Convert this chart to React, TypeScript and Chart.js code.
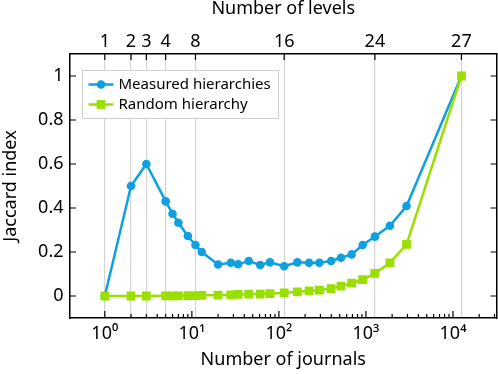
import React, { useEffect, useRef } from "react";
import { Chart, registerables } from "chart.js";

Chart.register(...registerables);

// ---- data ----
const journals = [1, 2, 3, 5, 6, 7, 9, 11, 13, 20, 28, 34, 45, 61, 79, 115, 163, 222, 292, 398, 517, 685, 917, 1268, 1884, 2930, 12500];
const measured = [0, 0.5, 0.6, 0.43, 0.374, 0.333, 0.273, 0.232, 0.2, 0.143, 0.151, 0.144, 0.159, 0.141, 0.153, 0.135, 0.153, 0.151, 0.151, 0.159, 0.174, 0.189, 0.232, 0.27, 0.319, 0.409, 1];
const random = [0, 0, 0, 0.001, 0.001, 0.001, 0.002, 0.002, 0.003, 0.004, 0.005, 0.007, 0.008, 0.009, 0.011, 0.014, 0.019, 0.023, 0.027, 0.034, 0.045, 0.058, 0.074, 0.103, 0.151, 0.235, 1];
const levelTicks = [1, 2, 3, 4, 8, 16, 24, 27];
const yTicks = [0, 0.2, 0.4, 0.6, 0.8, 1];
const decadeTicks = [1, 10, 100, 1000, 10000];
const seriesNames = ["Measured hierarchies", "Random hierarchy"];
const xTitle = "Number of journals";
const x2Title = "Number of levels";
const yTitle = "Jaccard index";

const BLUE = "#0fa0df";
const GREEN = "#99df00";
const FONT = "'Noto Sans', sans-serif";
const XMIN = Math.pow(10, -0.4);
const XMAX = Math.pow(10, 4.5);

const SUP: Record<string, string> = { "0": "\u2070", "1": "\u00b9", "2": "\u00b2", "3": "\u00b3", "4": "\u2074", "5": "\u2075" };

const noPad = (s: any) => {
  s.paddingLeft = 0;
  s.paddingRight = 0;
  s.paddingTop = 0;
  s.paddingBottom = 0;
};

const decor = {
  id: "decor",
  afterDatasetsDraw(chart: any) {
    const { ctx, chartArea: a, scales } = chart;
    const xs = scales.x;
    const ys = scales.y;
    ctx.save();
    // inward tick marks
    ctx.strokeStyle = "#000";
    ctx.lineWidth = 1.2;
    ctx.beginPath();
    for (let e = 0; e <= 4; e++) {
      for (let m = 1; m <= 9; m++) {
        const v = m * Math.pow(10, e);
        if (v > XMAX) continue;
        const x = xs.getPixelForValue(v);
        const len = m === 1 ? 7 : 4;
        ctx.moveTo(x, a.bottom);
        ctx.lineTo(x, a.bottom - len);
      }
    }
    levelTicks.forEach((l) => {
      const x = xs.getPixelForValue(journals[l - 1]);
      ctx.moveTo(x, a.top);
      ctx.lineTo(x, a.top + 6);
    });
    yTicks.forEach((v) => {
      const y = ys.getPixelForValue(v);
      ctx.moveTo(a.left, y);
      ctx.lineTo(a.left + 6, y);
      ctx.moveTo(a.right, y);
      ctx.lineTo(a.right - 6, y);
    });
    ctx.stroke();

    // legend box
    const bx = a.left + 12.5;
    const by = a.top + 16.5;
    const bw = 196;
    const bh = 48;
    ctx.fillStyle = "#fff";
    ctx.fillRect(bx, by, bw, bh);
    ctx.strokeStyle = "#d0d0d0";
    ctx.lineWidth = 1;
    ctx.strokeRect(bx, by, bw, bh);
    const colors = [BLUE, GREEN];
    seriesNames.forEach((name, i) => {
      const cy = by + 14 + 20 * i;
      const x0 = bx + 6;
      const x1 = bx + 31;
      const cx = (x0 + x1) / 2;
      ctx.strokeStyle = colors[i];
      ctx.lineWidth = 2.5;
      ctx.beginPath();
      ctx.moveTo(x0, cy);
      ctx.lineTo(x1, cy);
      ctx.stroke();
      ctx.fillStyle = colors[i];
      if (i === 0) {
        ctx.beginPath();
        ctx.arc(cx, cy, 4.3, 0, Math.PI * 2);
        ctx.fill();
      } else {
        ctx.fillRect(cx - 4.4, cy - 4.4, 8.8, 8.8);
      }
      ctx.fillStyle = "#000";
      ctx.font = "15px " + FONT;
      ctx.textBaseline = "middle";
      ctx.textAlign = "left";
      ctx.fillText(name, bx + 36, cy);
    });
    ctx.restore();
  },
};

export default function App() {
  const ref = useRef<HTMLCanvasElement>(null);
  useEffect(() => {
    Chart.defaults.font.family = FONT;
    Chart.defaults.color = "#000";
    const border = { display: true, color: "#000", width: 1.5 };
    const chart = new Chart(ref.current as HTMLCanvasElement, {
      type: "line",
      data: {
        datasets: [
          {
            label: seriesNames[0],
            data: journals.map((j, i) => ({ x: j, y: measured[i] })),
            borderColor: BLUE,
            backgroundColor: BLUE,
            pointBackgroundColor: BLUE,
            borderWidth: 2.5,
            pointRadius: 4.3,
            pointBorderWidth: 0,
            pointStyle: "circle",
            order: 1,
          },
          {
            label: seriesNames[1],
            data: journals.map((j, i) => ({ x: j, y: random[i] })),
            borderColor: GREEN,
            backgroundColor: GREEN,
            pointBackgroundColor: GREEN,
            borderWidth: 2.5,
            pointRadius: 6.2,
            pointBorderWidth: 0,
            pointStyle: "rect",
            order: 0,
          },
        ],
      },
      options: {
        responsive: false,
        animation: false,
        layout: { padding: 0, autoPadding: false },
        plugins: { legend: { display: false }, tooltip: { enabled: false } },
        scales: {
          x: {
            type: "logarithmic",
            position: "bottom",
            min: XMIN,
            max: XMAX,
            afterBuildTicks: (s: any) => {
              s.ticks = decadeTicks.map((v) => ({ value: v, major: true }));
            },
            afterFit: (s: any) => {
              s.height = 56;
              noPad(s);
            },
            grid: { display: false, drawTicks: false },
            border,
            ticks: {
              autoSkip: false,
              maxRotation: 0,
              padding: 5,
              font: { size: 18 },
              color: "#000",
              callback: (v: any) => "10" + SUP[String(Math.round(Math.log10(Number(v))))],
            },
            title: { display: true, text: xTitle, font: { size: 18 }, color: "#000", padding: { top: 0, bottom: 3 } },
          },
          x2: {
            type: "logarithmic",
            position: "top",
            min: XMIN,
            max: XMAX,
            afterBuildTicks: (s: any) => {
              s.ticks = levelTicks.map((l) => ({ value: journals[l - 1] }));
            },
            afterFit: (s: any) => {
              s.height = 54;
              noPad(s);
            },
            grid: { display: true, drawOnChartArea: true, drawTicks: false, color: "#d4d4d4", lineWidth: 1.2 },
            border,
            ticks: {
              autoSkip: false,
              maxRotation: 0,
              padding: 1,
              font: { size: 18 },
              color: "#000",
              callback: (_v: any, i: number) => String(levelTicks[i]),
            },
            title: { display: true, text: x2Title, font: { size: 18 }, color: "#000", padding: { top: -1.5, bottom: 0 } },
          },
          y: {
            type: "linear",
            position: "left",
            min: -0.1,
            max: 1.1,
            afterBuildTicks: (s: any) => {
              s.ticks = yTicks.map((v) => ({ value: v }));
            },
            afterFit: (s: any) => {
              s.width = 70;
              noPad(s);
            },
            grid: { display: false, drawTicks: false },
            border,
            ticks: {
              padding: 6.5,
              font: { size: 18 },
              color: "#000",
              callback: (v: any) => String(v),
            },
            title: { display: true, text: yTitle, font: { size: 18 }, color: "#000", padding: { top: 0, bottom: 0 } },
          },
          y2: {
            type: "linear",
            position: "right",
            min: -0.1,
            max: 1.1,
            afterFit: (s: any) => {
              s.width = 1.5;
              noPad(s);
            },
            grid: { display: false, drawTicks: false },
            border,
            ticks: { display: false },
          },
        },
      },
      plugins: [decor],
    } as any);
    return () => chart.destroy();
  }, []);
  return (
    <div style={{ position: "fixed", left: 0, top: 0, width: 498, height: 374, background: "#fff" }}>
      <canvas ref={ref} width={498} height={374} style={{ display: "block" }} />
    </div>
  );
}
